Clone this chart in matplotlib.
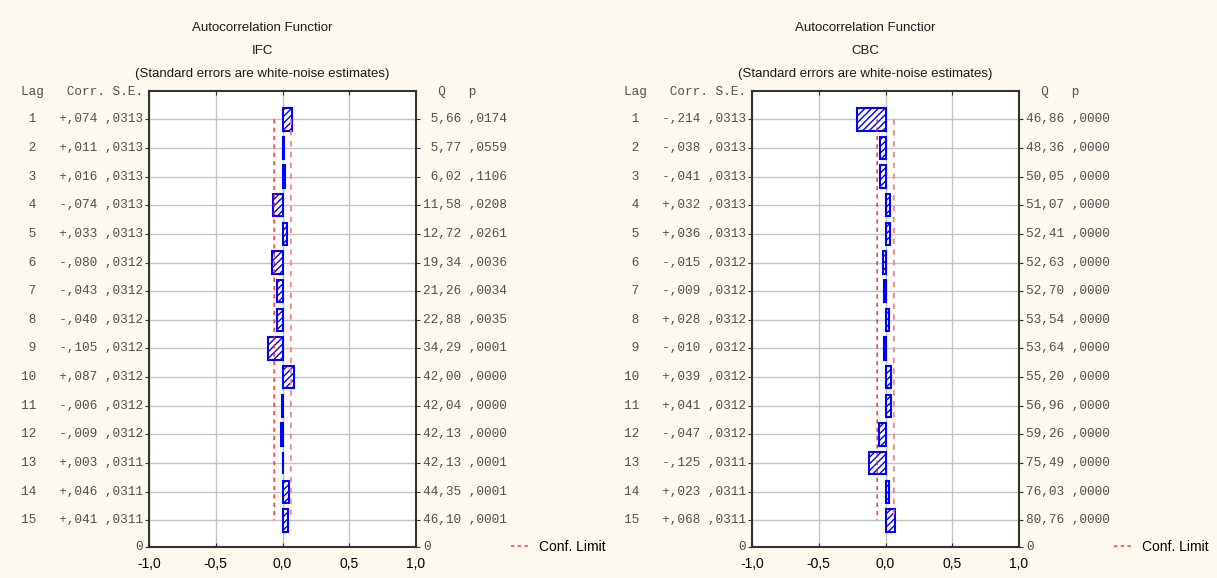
import matplotlib
matplotlib.use("Agg")
import matplotlib.pyplot as plt
import numpy as np
from matplotlib.lines import Line2D

lags = np.arange(1, 16)

# IFC
ifc_corr = [0.074, 0.011, 0.016, -0.074, 0.033, -0.080, -0.043, -0.040,
            -0.105, 0.087, -0.006, -0.009, 0.003, 0.046, 0.041]
ifc_se = [0.0313, 0.0313, 0.0313, 0.0313, 0.0313, 0.0312, 0.0312, 0.0312,
          0.0312, 0.0312, 0.0312, 0.0312, 0.0311, 0.0311, 0.0311]
ifc_q = [5.66, 5.77, 6.02, 11.58, 12.72, 19.34, 21.26, 22.88,
         34.29, 42.00, 42.04, 42.13, 42.13, 44.35, 46.10]
ifc_p = [0.0174, 0.0559, 0.1106, 0.0208, 0.0261, 0.0036, 0.0034, 0.0035,
         0.0001, 0.0000, 0.0000, 0.0000, 0.0001, 0.0001, 0.0001]

# CBC
cbc_corr = [-0.214, -0.038, -0.041, 0.032, 0.036, -0.015, -0.009, 0.028,
            -0.010, 0.039, 0.041, -0.047, -0.125, 0.023, 0.068]
cbc_se = ifc_se
cbc_q = [46.86, 48.36, 50.05, 51.07, 52.41, 52.63, 52.70, 53.54,
         53.64, 55.20, 56.96, 59.26, 75.49, 76.03, 80.76]
cbc_p = [0.0] * 15

BG = "#fdf9ee"
SANS = ["Liberation Sans", "DejaVu Sans"]
MONO = ["Liberation Mono", "DejaVu Sans Mono"]
TXT = "#505050"


def dec(v, sign=False, nd=3):
    s = ("%.*f" % (nd, abs(v)))
    if abs(v) < 1:
        s = s[1:]
    if sign:
        s = ("-" if v < 0 else "+") + s
    return s.replace(".", ",")


def panel(ax, name, corr, se, q, p):
    ax.set_facecolor("white")
    ax.barh(lags, corr, height=0.78, color="white", edgecolor="blue",
            hatch="/////", linewidth=1.5, zorder=3)
    lim = 2 * np.array(se)
    ax.plot(-lim, lags, ls=(0, (3, 3)), color="#ff2020", lw=1.0, zorder=4)
    ax.plot(lim, lags, ls=(0, (3, 3)), color="#ff8080", lw=1.3, zorder=4)

    ax.set_xlim(-1, 1)
    ax.set_ylim(15.93, 0)
    ax.set_xticks([-1, -0.5, 0, 0.5, 1])
    ax.set_xticklabels(["-1,0", "-0,5", "0,0", "0,5", "1,0"],
                       family=SANS, fontsize=10)
    ax.set_yticks(list(lags) + [15.93])
    ax.set_yticklabels([])
    ax.tick_params(axis="y", which="both", left=True, right=True,
                   direction="out", length=3, color="#333333")
    ax.tick_params(axis="x", top=True, direction="in", length=3, pad=7,
                   color="#333333")
    ax.grid(True, color="#c4c4c4", lw=1.0, zorder=0)
    for s in ax.spines.values():
        s.set_color("#333333")
        s.set_linewidth(1.5)

    tr = ax.get_yaxis_transform()
    mono = dict(family=MONO, fontsize=9.2, color=TXT, va="center")
    ax.text(-0.022, 0.05, "Lag   Corr. S.E.", transform=tr, ha="right", **mono)
    ax.text(1.026, 0.05, "  Q   p", transform=tr, ha="left", **mono)
    for i, lag in enumerate(lags):
        ax.text(-0.022, lag, "%2d   %s %s" % (lag, dec(corr[i], True),
                dec(se[i], nd=4)), transform=tr, ha="right", **mono)
        ax.text(1.026, lag, "%5s %s" % (("%.2f" % q[i]).replace(".", ","),
                dec(p[i], nd=4)), transform=tr, ha="left", **mono)
    ax.text(-0.022, 15.93, "0", transform=tr, ha="right", **mono)
    ax.text(1.026, 15.93, "0", transform=tr, ha="left", **mono)

    tk = dict(family=SANS, fontsize=9.5, color="#1a1a1a", ha="center",
              va="center", transform=ax.transAxes)
    ax.text(0.423, 1 + 62.7 / 456, "Autocorrelation Functior", **tk)
    ax.text(0.423, 1 + 39.7 / 456, name, **tk)
    ax.text(0.423, 1 + 16.7 / 456, "(Standard errors are white-noise estimates)", **tk)

    h = Line2D([], [], ls=(0, (2.2, 2.2)), color="#ff4040", lw=1.1)
    ax.legend([h], ["Conf. Limit"], loc="center left", frameon=False,
              bbox_to_anchor=(1.355, 0.0), borderaxespad=0, borderpad=0,
              handlelength=1.3, handletextpad=0.7,
              prop={"family": SANS, "size": 10})


fig = plt.figure(figsize=(12.17, 5.78), dpi=100, facecolor=BG)
ax1 = fig.add_axes([149 / 1217, 1 - 547 / 578, 267 / 1217, 456.3 / 578])
ax2 = fig.add_axes([752 / 1217, 1 - 547 / 578, 267 / 1217, 456.3 / 578])
panel(ax1, "IFC", ifc_corr, ifc_se, ifc_q, ifc_p)
panel(ax2, "CBC", cbc_corr, cbc_se, cbc_q, cbc_p)

fig.savefig("out.png", dpi=100, facecolor=BG)
